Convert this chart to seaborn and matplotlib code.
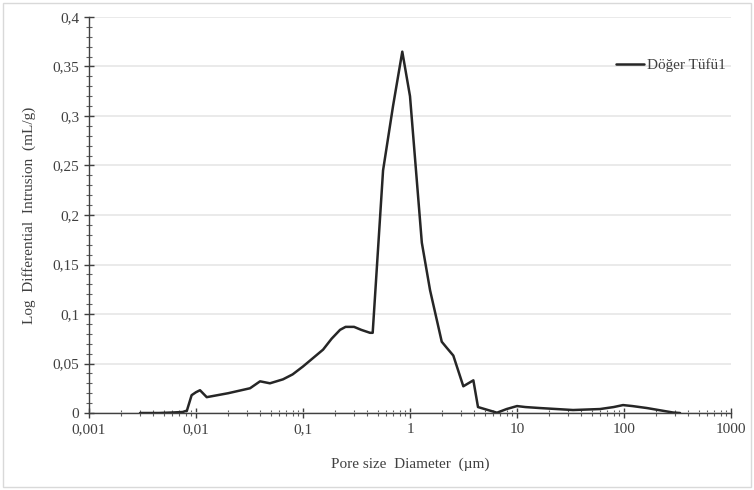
import pandas as pd
import matplotlib
matplotlib.use('Agg')
import matplotlib.pyplot as plt
from matplotlib.ticker import FuncFormatter, MultipleLocator, LogLocator, NullFormatter
from matplotlib.patches import Rectangle
import seaborn as sns

# pore diameter (um) and log differential intrusion (mL/g)
diameter = [0.0030, 0.0045, 0.0060, 0.0075, 0.0080, 0.0082, 0.0091, 0.0100, 0.0109, 0.0126,
            0.0200, 0.0320, 0.0397, 0.0491, 0.0650, 0.080, 0.100, 0.154, 0.185, 0.222,
            0.250, 0.300, 0.350, 0.423, 0.448, 0.560, 0.694, 0.847, 1.00, 1.29, 1.54, 1.98,
            2.20, 2.54, 3.15, 3.91, 4.32, 6.50, 8.0, 10.0, 12.0, 16.4, 33.4, 59.7, 80.0, 97.9,
            120, 164, 287, 334]
intrusion = [0.0, 0.0, 0.0005, 0.001, 0.002, 0.002, 0.018, 0.021, 0.023, 0.016,
             0.020, 0.025, 0.032, 0.030, 0.034, 0.039, 0.047, 0.064, 0.075, 0.084,
             0.087, 0.087, 0.084, 0.081, 0.081, 0.245, 0.310, 0.365, 0.320, 0.172, 0.124, 0.072,
             0.066, 0.058, 0.027, 0.033, 0.006, 0.0003, 0.004, 0.007, 0.006, 0.005, 0.003, 0.004,
             0.006, 0.008, 0.007, 0.005, 0.0005, 0.0]
series_name = 'Döğer Tüfü1'
x_ticks = [0.001, 0.01, 0.1, 1, 10, 100, 1000]
x_tick_labels = ['0,001', '0,01', '0,1', '1', '10', '100', '1000']

df = pd.DataFrame({'Diameter': diameter, 'Intrusion': intrusion})

sns.set_style('white')
plt.rcParams['font.family'] = ['Liberation Serif', 'DejaVu Serif']

fig = plt.figure(figsize=(7.54, 4.9), dpi=100)
ax = fig.add_axes([89 / 754, 1 - 413 / 490, (731 - 89) / 754, (413 - 17) / 490])

sns.lineplot(data=df, x='Diameter', y='Intrusion', color='#262626', linewidth=1.8,
             label=series_name, ax=ax)

ax.set_xscale('log')
ax.set_xlim(0.001, 1000)
ax.set_ylim(0, 0.4)
ax.set_xticks(x_ticks)
ax.set_xticklabels(x_tick_labels)
ax.xaxis.set_minor_locator(LogLocator(base=10, subs=range(2, 10)))
ax.xaxis.set_minor_formatter(NullFormatter())
ax.yaxis.set_major_locator(MultipleLocator(0.05))
ax.yaxis.set_minor_locator(MultipleLocator(0.01))
ax.yaxis.set_major_formatter(FuncFormatter(lambda v, p: ('%g' % round(v, 3)).replace('.', ',')))

ax.grid(axis='y', which='major', color='#e6e6e6', linewidth=1.2)
ax.grid(axis='x', visible=False)
sns.despine(ax=ax)
for s in ['left', 'bottom']:
    ax.spines[s].set_color('#404040')
    ax.spines[s].set_linewidth(1.0)
ax.tick_params(axis='both', which='major', direction='inout', length=7, width=1,
               color='#404040', labelsize=11, labelcolor='#404040', left=True, bottom=True)
ax.tick_params(axis='both', which='minor', direction='inout', length=4, width=0.8,
               color='#606060', left=True, bottom=True)

ax.set_xlabel('Pore size  Diameter  (µm)', fontsize=11, color='#404040', labelpad=16)
ax.set_ylabel('Log  Differential  Intrusion  (mL/g)', fontsize=11, color='#404040', labelpad=12)

ax.legend(loc='upper left', bbox_to_anchor=(0.8, 0.93), frameon=False, fontsize=11,
          handlelength=1.8, handletextpad=0.2, labelcolor='#404040')

fig.patches.append(Rectangle((0.004, 0.006), 0.992, 0.988, transform=fig.transFigure,
                             fill=False, edgecolor='#d9d9d9', linewidth=1))

fig.savefig('out.png', dpi=100)
